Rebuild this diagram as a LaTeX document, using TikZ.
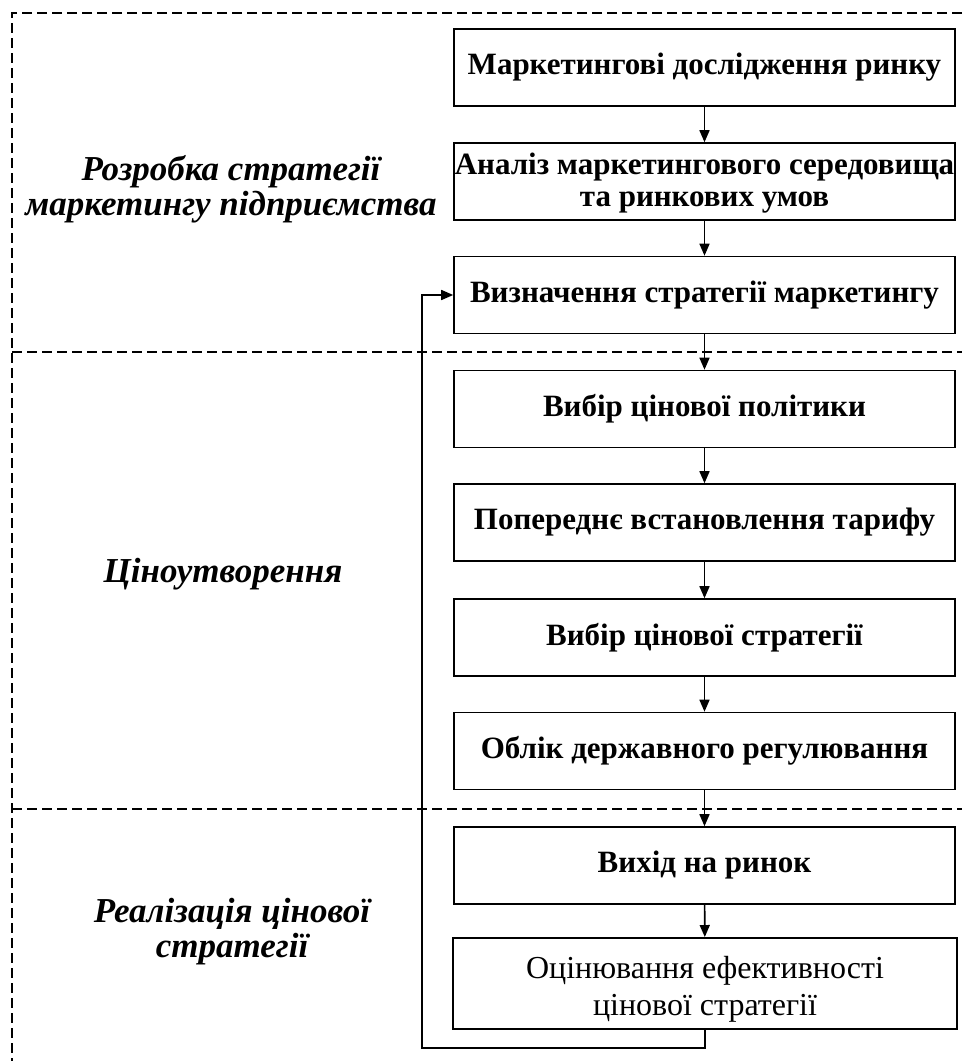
\documentclass[tikz,border=0pt]{standalone}
\usepackage{fontspec}
\setmainfont{Liberation Serif}
\usetikzlibrary{arrows.meta}
\begin{document}
\begin{tikzpicture}[x=1pt,y=-1pt,
  stepbox/.style={draw,line width=1.6pt,minimum width=501pt,minimum height=77pt,align=center,font=\bfseries\fontsize{31}{32}\selectfont,inner sep=0pt},
  lab/.style={align=center,font=\bfseries\itshape\fontsize{35}{35}\selectfont},
  arr/.style={line width=1.6pt,-{Triangle[length=12pt,width=10pt]}},
  zone/.style={line width=1.4pt,dash pattern=on 10pt off 5pt}]
\useasboundingbox (0,0) rectangle (962,1061);
\draw[zone] (962,13) -- (12,13) -- (12,1061);
\draw[zone] (12,352) -- (962,352);
\draw[zone] (12,809) -- (962,809);
\node[stepbox] (b1) at (704.5,67.5) {Маркетингові дослідження ринку};
\node[stepbox] (b2) at (704.5,181.5) {};
\node[align=center,font=\bfseries\fontsize{31}{32}\selectfont,inner sep=0pt] (t2) at (704.5,183.5) {Аналіз маркетингового середовища\\та ринкових умов};
\node[stepbox] (b3) at (704.5,295) {Визначення стратегії маркетингу};
\node[stepbox] (b4) at (704.5,409) {Вибір цінової політики};
\node[stepbox] (b5) at (704.5,522.5) {Попереднє встановлення тарифу};
\node[stepbox] (b6) at (704.5,637.5) {Вибір цінової стратегії};
\node[stepbox] (b7) at (704.5,751) {Облік державного регулювання};
\node[stepbox] (b8) at (704.5,865.5) {Вихід на ринок};
\node[stepbox,minimum height=91pt,minimum width=504pt,line width=2pt] (b9) at (705,983.5) {};
\node[align=center,font=\fontsize{32}{37}\selectfont] (t9) at (705,989) {Оцінювання ефективності\\цінової стратегії};
\node[lab] (l1) at (231,189) {Розробка стратегії\\маркетингу підприємства};
\node[lab] (l2) at (223,574) {Ціноутворення};
\node[lab] (l3) at (232,932) {Реалізація цінової\\стратегії};
\draw[arr] (b1) -- (b2);
\draw[arr] (b2) -- (b3);
\draw[arr] (b3) -- (b4);
\draw[arr] (b4) -- (b5);
\draw[arr] (b5) -- (b6);
\draw[arr] (b6) -- (b7);
\draw[arr] (b7) -- (b8);
\draw[arr] (b8) -- (b9);
\coordinate (c1) at (705,1048);
\coordinate (c2) at (422,1048);
\draw[arr] (b9.south) -- (c1) -- (c2) -- (c2 |- b3.west) -- (b3.west);
\end{tikzpicture}
\end{document}
